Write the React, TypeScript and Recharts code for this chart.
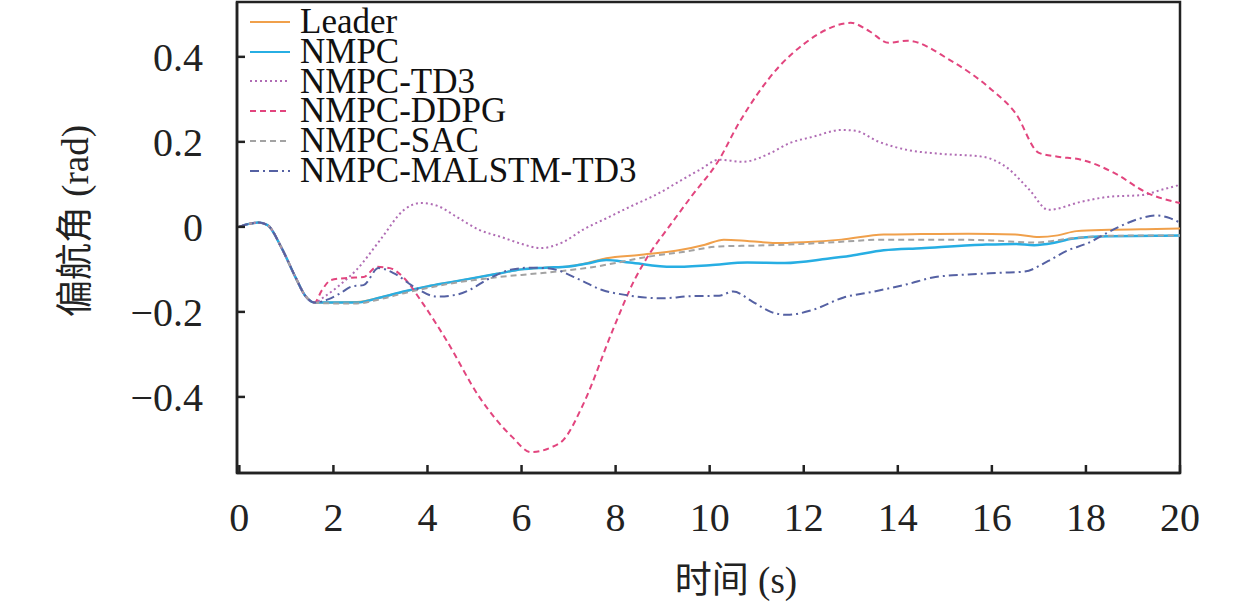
import { LineChart, Line, XAxis, YAxis, Legend, ReferenceArea } from 'recharts';

const font = '"Times New Roman", "Liberation Serif", "Noto Sans CJK SC", serif';

const xTicks = [0, 2, 4, 6, 8, 10, 12, 14, 16, 18, 20];
const yTicks = [-0.4, -0.2, 0, 0.2, 0.4];

// shared start of every run
const start = [[0, 0], [0.2, 0.007], [0.4, 0.01], [0.6, 0.004], [0.9, -0.05], [1.2, -0.12], [1.4, -0.162], [1.6, -0.178]];

const leader = [
  [2, -0.178], [2.5, -0.177], [3, -0.166], [3.5, -0.152], [4, -0.14], [4.5, -0.13], [5, -0.12], [5.5, -0.11],
  [6, -0.1], [6.5, -0.096], [7, -0.093], [7.4, -0.085], [7.8, -0.074], [8.5, -0.066], [9.4, -0.054], [9.9, -0.042],
  [10.3, -0.03], [10.8, -0.033], [11.4, -0.038], [12, -0.036], [12.8, -0.03], [13.7, -0.018], [14.5, -0.017],
  [15.5, -0.016], [16.5, -0.018], [17, -0.024], [17.4, -0.02], [17.8, -0.01], [18.5, -0.007], [19.5, -0.005], [20, -0.004],
];

const nmpc = [
  [2, -0.178], [2.5, -0.178], [3, -0.166], [3.5, -0.152], [4, -0.14], [4.5, -0.13], [5, -0.12], [5.5, -0.11],
  [6, -0.1], [6.5, -0.096], [7, -0.093], [7.4, -0.086], [7.8, -0.078], [8.3, -0.084], [9.2, -0.094], [10, -0.09],
  [10.8, -0.084], [11.6, -0.085], [12.5, -0.075], [13, -0.068], [13.7, -0.055], [14.5, -0.05], [15.8, -0.042],
  [16.5, -0.04], [16.9, -0.043], [17.3, -0.038], [17.7, -0.028], [18.5, -0.022], [19.5, -0.021], [20, -0.02],
];

const td3 = [
  [1.8, -0.165], [2.1, -0.14], [2.5, -0.1], [3, -0.03], [3.5, 0.04], [3.85, 0.056], [4.2, 0.05], [4.6, 0.025],
  [5.1, -0.007], [5.6, -0.025], [6, -0.04], [6.4, -0.05], [6.9, -0.035], [7.3, -0.007], [7.8, 0.02], [8.3, 0.047],
  [8.9, 0.078], [9.4, 0.11], [9.8, 0.135], [10.2, 0.158], [10.7, 0.153], [11.3, 0.174], [11.7, 0.197], [12.2, 0.212],
  [12.8, 0.228], [13.1, 0.226], [13.6, 0.2], [14.2, 0.181], [14.9, 0.172], [15.8, 0.165], [16.3, 0.141], [16.8, 0.087],
  [17.2, 0.04], [17.9, 0.059], [18.5, 0.071], [19.2, 0.075], [19.6, 0.087], [20, 0.099],
];

const ddpg = [
  [1.75, -0.15], [1.95, -0.125], [2.3, -0.12], [2.64, -0.118], [2.93, -0.094], [3.2, -0.097], [3.5, -0.12],
  [3.9, -0.18], [4.4, -0.266], [5.1, -0.4], [5.8, -0.494], [6.2, -0.53], [6.6, -0.52], [6.9, -0.5], [7.3, -0.42],
  [7.95, -0.24], [8.4, -0.125], [8.74, -0.06], [9.1, -0.005], [9.6, 0.07], [10.2, 0.158], [10.6, 0.24], [11, 0.31],
  [11.5, 0.38], [12, 0.43], [12.5, 0.465], [13, 0.48], [13.4, 0.46], [13.8, 0.433], [14.2, 0.438], [15.1, 0.393],
  [16, 0.322], [16.5, 0.268], [17, 0.174], [17.4, 0.165], [17.9, 0.158], [18.6, 0.127], [19.3, 0.08], [20, 0.056],
];

const sac = [
  [2, -0.18], [2.5, -0.18], [3, -0.17], [3.5, -0.156], [4, -0.144], [4.5, -0.133], [5, -0.125], [5.5, -0.118],
  [6, -0.113], [6.5, -0.108], [7, -0.102], [7.5, -0.095], [8, -0.085], [8.7, -0.07], [9.5, -0.058], [10.2, -0.046],
  [11, -0.044], [12, -0.04], [12.8, -0.035], [13.7, -0.03], [15, -0.03], [16, -0.032], [16.9, -0.037], [17.7, -0.027],
  [18.5, -0.021], [20, -0.02],
];

const malstm = [
  [1.9, -0.17], [2.15, -0.156], [2.4, -0.14], [2.64, -0.137], [2.96, -0.097], [3.3, -0.11], [3.7, -0.14], [4.2, -0.164],
  [4.6, -0.16], [4.9, -0.148], [5.3, -0.122], [5.8, -0.1], [6.2, -0.096], [6.6, -0.098], [7.25, -0.125], [7.7, -0.148],
  [8.2, -0.16], [9, -0.168], [9.6, -0.163], [10.2, -0.162], [10.5, -0.152], [10.9, -0.175], [11.3, -0.2], [11.65, -0.207],
  [12.2, -0.195], [12.85, -0.166], [13.5, -0.152], [14.2, -0.135], [14.8, -0.118], [15.5, -0.112], [16.2, -0.108],
  [16.7, -0.105], [17.2, -0.08], [17.6, -0.056], [18, -0.04], [18.7, 0], [19.1, 0.018], [19.5, 0.027], [19.8, 0.02], [20, 0.01],
];

const toPoints = (rows: number[][]) => [...start, ...rows].map(([t, v]) => ({ t, v }));

const series = [
  { name: 'Leader', data: leader, color: '#F0A04B', dash: undefined, width: 2 },
  { name: 'NMPC', data: nmpc, color: '#27AEE3', dash: undefined, width: 2.5 },
  { name: 'NMPC-TD3', data: td3, color: '#B06CB4', dash: '2 3', width: 2 },
  { name: 'NMPC-DDPG', data: ddpg, color: '#E2457E', dash: '6 4', width: 2 },
  { name: 'NMPC-SAC', data: sac, color: '#A3A3A3', dash: '6 4', width: 2 },
  { name: 'NMPC-MALSTM-TD3', data: malstm, color: '#5561A3', dash: '9 4 2 4', width: 2 },
];

const fmt = (v: number) => (v === 0 ? '0' : v < 0 ? '\u2212' + Math.abs(v).toFixed(1) : v.toFixed(1));

const renderLegend = () => (
  <div style={{ fontFamily: font, fontSize: 35, color: '#111' }}>
    {series.map((s) => (
      <div key={s.name} style={{ display: 'flex', alignItems: 'center', height: 29.8, lineHeight: '29.8px' }}>
        <svg width={46} height={10} style={{ marginRight: 6 }}>
          <line x1={2} y1={5} x2={42} y2={5} stroke={s.color} strokeWidth={2} strokeDasharray={s.dash} />
        </svg>
        <span>{s.name}</span>
      </div>
    ))}
  </div>
);

export default function App() {
  return (
    <div style={{ position: 'absolute', left: 0, top: 0, background: '#fff' }}>
      <LineChart width={1259} height={608} margin={{ top: 2, right: 79, bottom: 0, left: 0 }}>
        <XAxis
          dataKey="t"
          type="number"
          domain={[-0.05, 20]}
          ticks={xTicks}
          allowDataOverflow
          height={135}
          tickSize={-8}
          tickMargin={38}
          axisLine={{ stroke: '#222', strokeWidth: 2.5 }}
          tickLine={{ stroke: '#222', strokeWidth: 2.5 }}
          tick={{ fill: '#222', fontSize: 40, fontFamily: font }}
          label={() => (
            <text x={736} y={580} textAnchor="middle" dominantBaseline="central" fontSize={37} fontFamily={font} fill="#222">
              时间 (s)
            </text>
          )}
        />
        <YAxis
          type="number"
          domain={[-0.579, 0.529]}
          ticks={yTicks}
          allowDataOverflow
          width={237}
          tickSize={-8}
          tickMargin={42}
          tickFormatter={fmt}
          axisLine={{ stroke: '#222', strokeWidth: 2.5 }}
          tickLine={{ stroke: '#222', strokeWidth: 2.5 }}
          tick={{ fill: '#222', fontSize: 40, fontFamily: font }}
          label={() => (
            <text
              x={75}
              y={221}
              transform="rotate(-90 75 221)"
              textAnchor="middle"
              dominantBaseline="central"
              fontSize={37}
              fontFamily={font}
              fill="#222"
            >
              偏航角 (rad)
            </text>
          )}
        />
        <ReferenceArea x1={-0.05} x2={20} y1={-0.579} y2={0.529} fill="none" stroke="#222" strokeWidth={2.5} ifOverflow="visible" />
        {series.map((s) => (
          <Line
            key={s.name}
            data={toPoints(s.data)}
            dataKey="v"
            name={s.name}
            type="monotone"
            stroke={s.color}
            strokeWidth={s.width}
            strokeDasharray={s.dash}
            dot={false}
            activeDot={false}
            isAnimationActive={false}
          />
        ))}
        <Legend
          layout="vertical"
          align="center"
          verticalAlign="middle"
          content={renderLegend}
          wrapperStyle={{ top: 7, left: 248, width: 420, height: 180 }}
        />
      </LineChart>
    </div>
  );
}
